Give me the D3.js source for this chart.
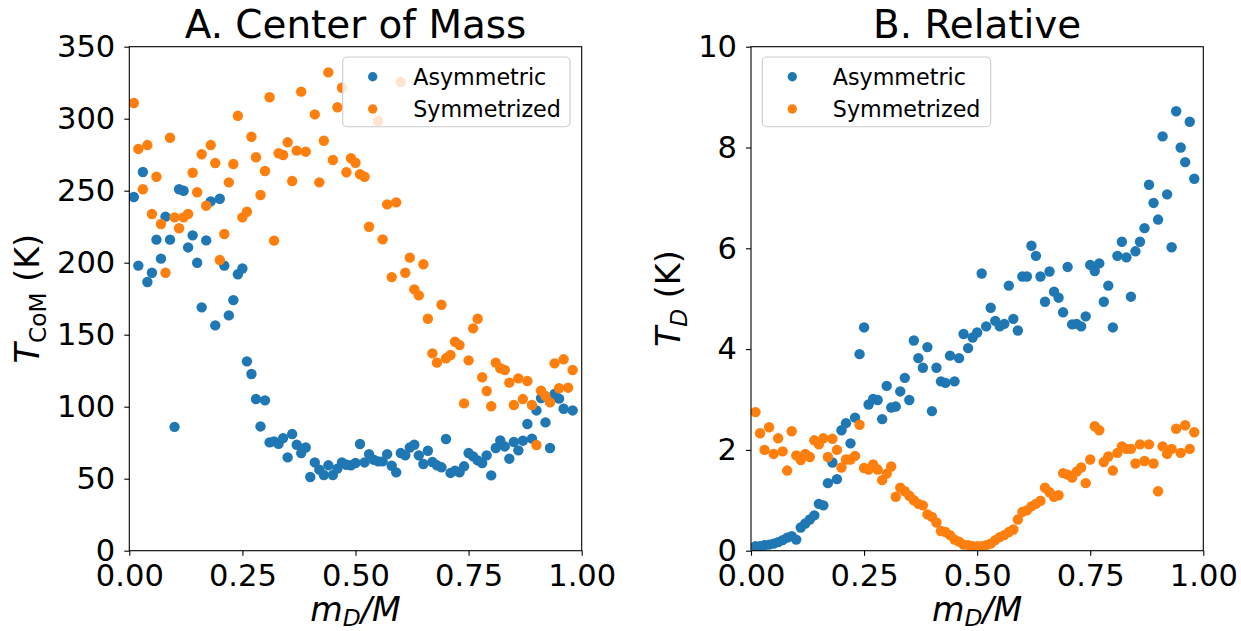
<!DOCTYPE html>
<html><head><meta charset="utf-8">
<script src="https://cdn.jsdelivr.net/npm/d3@7"></script>
<style>
body{margin:0;background:#fff}
text{font-family:"DejaVu Sans",sans-serif; white-space:pre}
</style>
</head><body>
<svg id="c" width="1241" height="631"></svg>
<script>
const massRatio = [0.01,0.02,0.03,0.04,0.05,0.06,0.07,0.08,0.09,0.10,
0.11,0.12,0.13,0.14,0.15,0.16,0.17,0.18,0.19,0.20,
0.21,0.22,0.23,0.24,0.25,0.26,0.27,0.28,0.29,0.30,
0.31,0.32,0.33,0.34,0.35,0.36,0.37,0.38,0.39,0.40,
0.41,0.42,0.43,0.44,0.45,0.46,0.47,0.48,0.49,0.50,
0.51,0.52,0.53,0.54,0.55,0.56,0.57,0.58,0.59,0.60,
0.61,0.62,0.63,0.64,0.65,0.66,0.67,0.68,0.69,0.70,
0.71,0.72,0.73,0.74,0.75,0.76,0.77,0.78,0.79,0.80,
0.81,0.82,0.83,0.84,0.85,0.86,0.87,0.88,0.89,0.90,
0.91,0.92,0.93,0.94,0.95,0.96,0.97,0.98];

const comAsymmetric = [245.6,198,263,186.6,193,216,202.8,232,216,86,
251,250,210.6,219,200,169,215.5,242.6,156.5,244.4,
198,163.4,174,192,196,131.5,122.7,105.3,86.3,104.4,
75.2,75.9,74.3,78.2,64.8,81,73.6,67.8,71.7,51.2,
61.3,56.3,52.6,59.3,52.6,57,61.3,59.7,59.3,60.9,
74.1,61.3,67.1,63.2,62,62,67.1,59,54.4,67.8,
66.2,71.7,73.6,66.2,60.2,69.4,61.6,59.3,57.9,77.6,
54,55.6,54.4,58.6,67.8,65.5,62.7,60.9,66.2,52.3,
71.3,76.6,72.4,63.9,75.5,69.7,76.4,88,77.8,97.4,
106,89.1,71.3,108.8,105.6,98.6,null,97.4];

const comSymmetrized = [310.9,279,251,281.7,233.8,259.7,226.9,193,286.8,231.5,
223.9,231.5,233.8,262.5,248.9,275.3,239.6,281.7,269.2,201.9,
219.9,255.8,268.5,302,231.5,235.4,287.5,273.2,247,263.7,
314.9,215.3,276,274.8,283.6,256.7,277.8,318.8,277.1,null,
303,255.8,284.7,332.2,271.3,307.9,321.5,262.8,272.5,269.4,
261.4,259.7,225,null,298.4,216.2,240.5,190,241.9,325.5,
193,203.5,181.5,177.3,198.9,161.1,137,130.6,170.8,133.6,
135.9,145.1,142.8,102.3,132.2,154.4,161.1,120.4,110.9,100.3,
130.6,126.7,125.5,116.7,101.2,119.7,105.3,117.8,101.2,73.4,
111.1,107.4,103,130.1,112.8,132.9,113.2,125.5];

const relAsymmetric = [0.09,0.09,0.11,0.12,0.14,0.17,0.21,0.26,0.29,0.22,
0.46,0.54,0.62,0.70,0.93,0.90,1.34,1.75,1.42,2.39,
2.53,2.13,2.64,3.90,4.43,2.90,3.01,2.99,2.61,3.27,
2.84,2.86,3.16,3.43,2.99,4.17,3.82,3.63,4.04,2.77,
3.63,3.36,3.33,3.87,3.36,3.82,4.30,4.02,4.23,4.33,
5.50,4.45,4.82,4.56,4.45,4.50,5.26,4.60,4.37,5.44,
5.44,6.05,5.85,5.44,4.94,5.54,5.14,5.02,4.73,5.63,
4.49,4.50,4.45,4.65,5.67,5.55,5.70,4.94,5.26,4.43,
5.85,6.13,5.82,5.04,5.94,6.13,6.40,7.26,6.90,6.57,
8.22,7.07,6.02,8.72,8.00,7.71,8.51,7.38];

const relSymmetrized = [2.75,2.33,2.00,2.45,1.92,2.23,1.97,1.59,2.37,1.89,
1.80,1.92,1.86,2.19,2.11,2.23,1.86,2.22,2.00,1.65,
1.81,1.81,1.88,2.50,1.64,1.61,1.71,1.61,1.40,1.53,
1.67,1.07,1.25,1.18,1.09,1.00,0.93,0.90,0.72,0.67,
0.56,0.39,0.37,0.31,0.22,0.18,0.12,0.11,0.09,0.09,
0.09,0.11,0.14,0.21,0.27,0.31,0.37,0.42,0.62,0.77,
0.80,0.88,0.93,0.99,1.25,1.16,1.07,1.10,1.54,1.51,
1.45,1.57,1.65,1.34,1.81,2.47,2.39,1.76,1.87,1.59,
1.94,2.07,2.02,2.02,1.73,2.11,1.78,2.11,1.73,1.18,
2.07,1.92,2.02,2.42,1.94,2.49,2.02,2.35];

const xTicks = [0, 0.25, 0.5, 0.75, 1.0];
const comTicks = [0, 50, 100, 150, 200, 250, 300, 350];
const relTicks = [0, 2, 4, 6, 8, 10];
const seriesNames = ["Asymmetric", "Symmetrized"];
const seriesColors = ["#1f77b4", "#ff7f0e"];

const svg = d3.select("#c");
const FONT = '"DejaVu Sans", sans-serif';

function drawPanel(p) {
  const x = d3.scaleLinear().domain([0, 1]).range([p.left, p.right]);
  const y = d3.scaleLinear().domain([0, p.yMax]).range([p.bottom, p.top]);
  const g = svg.append("g");

  svg.append("clipPath").attr("id", "clip" + p.id)
    .append("rect").attr("x", p.left).attr("y", p.top)
    .attr("width", p.right - p.left).attr("height", p.bottom - p.top);

  const pts = g.append("g").attr("clip-path", `url(#clip${p.id})`);
  p.series.forEach((s, k) => {
    const data = massRatio.map((m, i) => ({ m, v: s[i] })).filter(d => d.v != null);
    pts.append("g").selectAll("circle").data(data).join("circle")
      .attr("cx", d => x(d.m)).attr("cy", d => y(d.v))
      .attr("r", 5.2).attr("fill", seriesColors[k]);
  });

  const xa = g.append("g").attr("transform", `translate(0,${p.bottom})`)
    .call(d3.axisBottom(x).tickValues(xTicks).tickFormat(d3.format(".2f")).tickSize(5).tickPadding(8.3));
  const ya = g.append("g").attr("transform", `translate(${p.left},0)`)
    .call(d3.axisLeft(y).tickValues(p.yTicks).tickFormat(d3.format("d")).tickSize(5).tickPadding(9));
  [xa, ya].forEach(a => {
    a.select(".domain").remove();
    a.selectAll("text").attr("font-family", FONT).attr("font-size", 30.56).attr("fill", "#000");
    a.selectAll("line").attr("stroke", "#000").attr("stroke-width", 1.1);
  });

  g.append("rect").attr("x", p.left).attr("y", p.top)
    .attr("width", p.right - p.left).attr("height", p.bottom - p.top)
    .attr("fill", "none").attr("stroke", "#000").attr("stroke-width", 1.1);

  // legend
  const L = p.legend;
  const lg = g.append("g");
  lg.append("rect").attr("x", L.x).attr("y", L.y).attr("width", L.w).attr("height", L.h)
    .attr("rx", 4.4).attr("fill", "#fff").attr("fill-opacity", 0.8)
    .attr("stroke", "#cccccc").attr("stroke-width", 1.1);
  seriesNames.forEach((name, k) => {
    const cy = L.y + 19.7 + k * 32.3;
    lg.append("circle").attr("cx", L.x + 30).attr("cy", cy).attr("r", 4.7).attr("fill", seriesColors[k]);
    lg.append("text").attr("x", L.x + 70.5).attr("y", cy + 7.8)
      .attr("font-family", FONT).attr("font-size", 22.22).attr("fill", "#000").text(name);
  });

  // title
  g.append("text").attr("x", (p.left + p.right) / 2).attr("y", 38.4)
    .attr("text-anchor", "middle").attr("font-family", FONT).attr("font-size", 38.89)
    .attr("fill", "#000").text(p.title);

  // x label m_D/M
  const xl = g.append("text").attr("x", (p.left + p.right) / 2).attr("y", 621)
    .attr("text-anchor", "middle").attr("font-family", FONT).attr("font-size", 33.33)
    .attr("fill", "#000").attr("font-style", "italic");
  xl.append("tspan").text("m");
  xl.append("tspan").attr("font-size", 23.33).attr("dy", 5).text("D");
  xl.append("tspan").attr("dy", -5).text("/M");

  // y label
  const yl = g.append("text")
    .attr("transform", `translate(${p.yLabelX},${(p.top + p.bottom) / 2}) rotate(-90)`)
    .attr("text-anchor", "middle").attr("font-family", FONT).attr("font-size", 33.33)
    .attr("fill", "#000");
  yl.append("tspan").attr("font-style", "italic").text("T");
  yl.append("tspan").attr("font-size", 23.33).attr("dy", 7)
    .attr("font-style", p.subItalic ? "italic" : "normal").text(p.sub);
  yl.append("tspan").attr("dy", -7).text(" (K)");
}

drawPanel({
  id: "A", left: 129.3, right: 581.7, top: 46.7, bottom: 550.7,
  yMax: 350, yTicks: comTicks, series: [comAsymmetric, comSymmetrized],
  title: "A. Center of Mass", sub: "CoM", subItalic: false, yLabelX: 39,
  legend: { x: 342.7, y: 57, w: 227.3, h: 69.7 }
});
drawPanel({
  id: "B", left: 751, right: 1203.3, top: 46.7, bottom: 550.7,
  yMax: 10, yTicks: relTicks, series: [relAsymmetric, relSymmetrized],
  title: "B. Relative", sub: "D", subItalic: true, yLabelX: 680,
  legend: { x: 762.3, y: 57, w: 228.4, h: 69.7 }
});
</script>
</body></html>
